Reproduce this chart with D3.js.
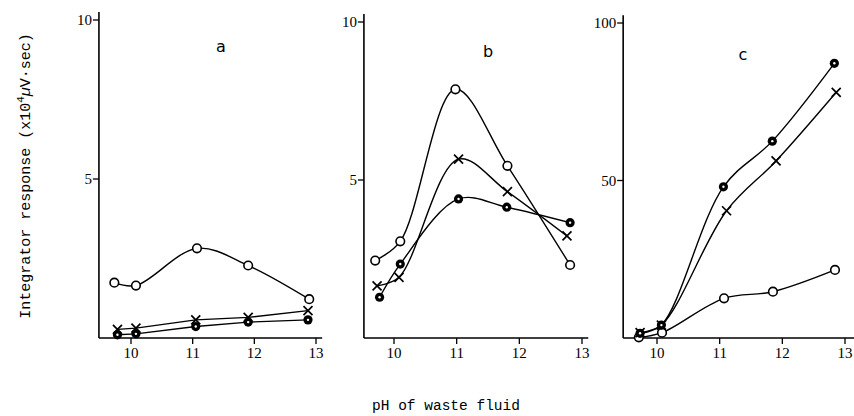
<!DOCTYPE html>
<html><head><meta charset="utf-8">
<script src="https://cdn.jsdelivr.net/npm/d3@7"></script>
<style>body{margin:0;background:#fff}svg{display:block}</style>
</head><body>
<script>
// ---- data ----
const panelNames = ["a", "b", "c"];
const xTicks = [10, 11, 12, 13];
const yTicksA = [5, 10];
const yTicksB = [5, 10];
const yTicksC = [50, 100];

// panel a
const aOpenPH = [9.73, 10.08, 11.07, 11.9, 12.89];
const aOpenVal = [1.74, 1.65, 2.82, 2.28, 1.22];
const aCrossPH = [9.78, 10.08, 11.05, 11.9, 12.87];
const aCrossVal = [0.27, 0.31, 0.57, 0.65, 0.86];
const aFillPH = [9.78, 10.08, 11.05, 11.9, 12.87];
const aFillVal = [0.1, 0.13, 0.36, 0.5, 0.57];
// panel b
const bOpenPH = [9.70, 10.10, 10.98, 11.81, 12.81];
const bOpenVal = [2.45, 3.06, 7.87, 5.45, 2.31];
const bCrossPH = [9.73, 10.08, 11.03, 11.81, 12.76];
const bCrossVal = [1.65, 1.92, 5.66, 4.63, 3.23];
const bFillPH = [9.77, 10.10, 11.03, 11.80, 12.81];
const bFillVal = [1.29, 2.34, 4.40, 4.14, 3.65];
// panel c
const cOpenPH = [9.71, 10.08, 11.07, 11.85, 12.84];
const cOpenVal = [0.2, 1.7, 12.6, 14.7, 21.6];
const cCrossPH = [9.73, 10.07, 11.11, 11.9, 12.86];
const cCrossVal = [1.7, 4.1, 40.4, 56.2, 78];
const cFillPH = [9.73, 10.07, 11.06, 11.84, 12.83];
const cFillVal = [1.5, 4.1, 48, 62.5, 87.2];

// ---- layout ----
const W = 854, H = 416;
const svg = d3.select("body").append("svg").attr("width", W).attr("height", H);
const smooth = d3.curveCatmullRom.alpha(0.5);

const layouts = [
  {name: panelNames[0], x10: 131, x13: 316, xMin: 9.48, xMax: 13.1, yTop: 20, yMax: 10, yTicks: yTicksA, lx: 221, ly: 52,
   series: [
     {type: "open", ph: aOpenPH, v: aOpenVal, curve: smooth},
     {type: "cross", ph: aCrossPH, v: aCrossVal, curve: d3.curveLinear},
     {type: "fill", ph: aFillPH, v: aFillVal, curve: d3.curveLinear}]},
  {name: panelNames[1], x10: 394, x13: 582, xMin: 9.52, xMax: 13.1, yTop: 22, yMax: 10, yTicks: yTicksB, lx: 488, ly: 57,
   series: [
     {type: "open", ph: bOpenPH, v: bOpenVal, curve: smooth},
     {type: "cross", ph: bCrossPH, v: bCrossVal, curve: smooth},
     {type: "fill", ph: bFillPH, v: bFillVal, curve: smooth}]},
  {name: panelNames[2], x10: 657, x13: 845, xMin: 9.46, xMax: 13.16, yTop: 23, yMax: 100, yTicks: yTicksC, lx: 743, ly: 60,
   series: [
     {type: "open", ph: cOpenPH, v: cOpenVal, curve: smooth},
     {type: "cross", ph: cCrossPH, v: cCrossVal, curve: smooth},
     {type: "fill", ph: cFillPH, v: cFillVal, curve: smooth}]}
];
const base = 338;
const tickFont = "'Liberation Serif', serif";

layouts.forEach(p => {
  const x = d3.scaleLinear().domain([10, 13]).range([p.x10, p.x13]);
  const y = d3.scaleLinear().domain([0, p.yMax]).range([base, p.yTop]);
  const g = svg.append("g");
  const x0 = x(p.xMin), x1 = x(p.xMax);
  g.append("line").attr("x1", x0).attr("x2", x0).attr("y1", base).attr("y2", y(p.yMax * 1.025))
    .attr("stroke", "#000").attr("stroke-width", 1.6);
  g.append("line").attr("x1", x0).attr("x2", x1).attr("y1", base).attr("y2", base)
    .attr("stroke", "#000").attr("stroke-width", 1.6);
  xTicks.forEach(t => {
    g.append("line").attr("x1", x(t)).attr("x2", x(t)).attr("y1", base).attr("y2", base + 6)
      .attr("stroke", "#000").attr("stroke-width", 1.3);
    g.append("text").attr("x", x(t)).attr("y", base + 20).attr("text-anchor", "middle")
      .attr("font-family", tickFont).attr("font-size", 15).text(t);
  });
  p.yTicks.forEach(t => {
    g.append("line").attr("x1", x0 - 6).attr("x2", x0).attr("y1", y(t)).attr("y2", y(t))
      .attr("stroke", "#000").attr("stroke-width", 1.3);
    g.append("text").attr("x", x0 - 7).attr("y", y(t) + 5).attr("text-anchor", "end")
      .attr("font-family", tickFont).attr("font-size", 15).text(t);
  });
  g.append("text").attr("x", p.lx).attr("y", p.ly).attr("text-anchor", "middle")
    .attr("font-family", "'DejaVu Sans', sans-serif").attr("font-size", 16).text(p.name);
  p.series.forEach(s => {
    const pts = s.ph.map((ph, i) => [ph, s.v[i]]);
    const line = d3.line().x(d => x(d[0])).y(d => y(d[1])).curve(s.curve);
    g.append("path").attr("d", line(pts)).attr("fill", "none").attr("stroke", "#000").attr("stroke-width", 1.4);
    pts.forEach(d => {
      const cx = x(d[0]), cy = y(d[1]);
      if (s.type === "open") {
        g.append("circle").attr("cx", cx).attr("cy", cy).attr("r", 4.3)
          .attr("fill", "#fff").attr("stroke", "#000").attr("stroke-width", 1.6);
      } else if (s.type === "fill") {
        g.append("circle").attr("cx", cx).attr("cy", cy).attr("r", 4.6).attr("fill", "#000");
        g.append("circle").attr("cx", cx).attr("cy", cy).attr("r", 1.2).attr("fill", "#fff");
      } else {
        const a = 4.5;
        g.append("path").attr("d", `M${cx - a},${cy - a}L${cx + a},${cy + a}M${cx - a},${cy + a}L${cx + a},${cy - a}`)
          .attr("stroke", "#000").attr("stroke-width", 1.7).attr("fill", "none");
      }
    });
  });
});

const yt = svg.append("text").attr("transform", "translate(30,176) rotate(-90)")
  .attr("text-anchor", "middle").attr("font-family", "'Liberation Mono', monospace").attr("font-size", 15);
yt.append("tspan").text("Integrator response (x10");
yt.append("tspan").attr("baseline-shift", "super").attr("font-size", 11).text("4");
yt.append("tspan").attr("font-style", "italic").text("µ");
yt.append("tspan").text("V·sec)");

svg.append("text").attr("x", 446).attr("y", 410).attr("text-anchor", "middle")
  .attr("font-family", "'Liberation Mono', monospace").attr("font-size", 14.5).text("pH of waste fluid");
</script>
</body></html>
